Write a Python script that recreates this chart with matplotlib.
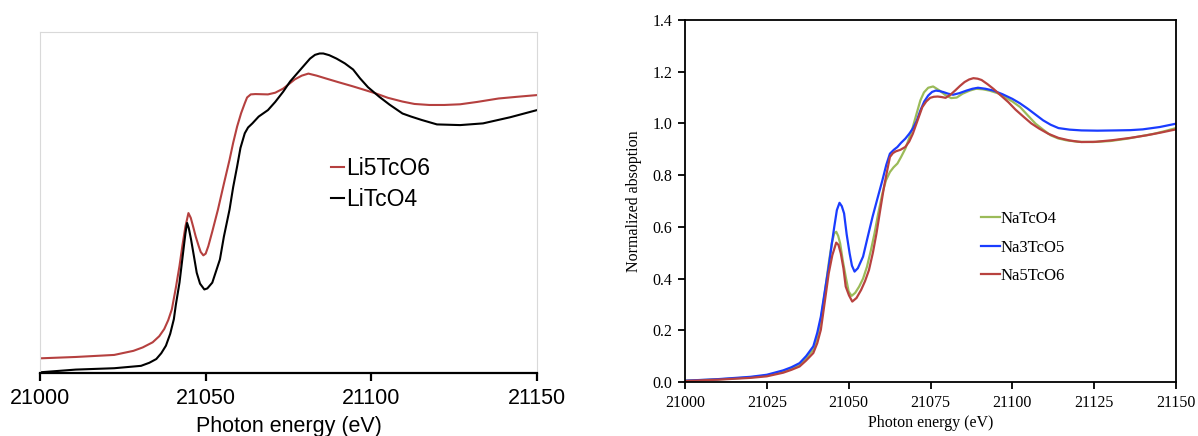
import matplotlib
matplotlib.use('Agg')
import matplotlib.pyplot as plt

# ---- left panel: Li compounds (arbitrary units) ----
li5tco6_e = [21000, 21010.8, 21022.4, 21028.2, 21031, 21034, 21036, 21037.5, 21038.7, 21039.8, 21041,
             21042.1, 21043, 21043.9, 21044.8, 21045.5, 21046.2, 21047, 21047.9, 21048.5, 21049.3,
             21050, 21050.8, 21052, 21053.7, 21055.5, 21057.2, 21058.3, 21059.5, 21060.7,
             21061.8, 21062.5, 21063.6, 21065, 21068.8, 21071, 21073.4, 21076.9, 21079,
             21081, 21083.5, 21086.2, 21090, 21094.3, 21098, 21101.3, 21105, 21109.4,
             21113, 21117.5, 21122, 21126.8, 21132, 21138.4, 21144, 21150]
li5tco6 = [0.043, 0.047, 0.053, 0.065, 0.075, 0.090, 0.108, 0.129, 0.155, 0.187, 0.25,
           0.314, 0.375, 0.430, 0.469, 0.455, 0.430, 0.40, 0.372, 0.355, 0.345,
           0.350, 0.372, 0.415, 0.479, 0.555, 0.625, 0.675, 0.723, 0.762,
           0.791, 0.808, 0.817, 0.818, 0.817, 0.822, 0.834, 0.861, 0.872,
           0.878, 0.872, 0.864, 0.853, 0.841, 0.830, 0.820, 0.807, 0.796,
           0.789, 0.786, 0.786, 0.788, 0.795, 0.805, 0.810, 0.815]

litco4_e = [21000, 21010.8, 21022.4, 21030.5, 21033, 21035.1, 21036.6, 21038, 21039.3, 21040.4,
            21041, 21042.1, 21043.3, 21043.9, 21044.4, 21044.9, 21045.6, 21046.5, 21047.3, 21048.3,
            21049.6, 21050.5, 21052, 21054.3, 21055.5, 21057.2, 21058.3, 21059.5, 21060.5, 21061.8,
            21062.8, 21064.1, 21066, 21068.8, 21071, 21073.4, 21075.5, 21078, 21081.5,
            21083, 21084.4, 21085.5, 21087.3, 21089.5, 21092, 21094.5, 21096.6, 21099,
            21102.4, 21105.5, 21109.4, 21112, 21115.2, 21119.8, 21126.8, 21133.7, 21141.9, 21150]
litco4 = [0.002, 0.010, 0.014, 0.021, 0.030, 0.041, 0.058, 0.080, 0.115, 0.158,
          0.20, 0.265, 0.362, 0.41, 0.440, 0.425, 0.391, 0.34, 0.294, 0.262,
          0.245, 0.248, 0.265, 0.333, 0.40, 0.479, 0.545, 0.606, 0.66, 0.703,
          0.72, 0.732, 0.752, 0.771, 0.795, 0.825, 0.855, 0.883, 0.922,
          0.933, 0.937, 0.937, 0.932, 0.922, 0.908, 0.89, 0.864, 0.838,
          0.810, 0.787, 0.761, 0.752, 0.742, 0.729, 0.727, 0.732, 0.750, 0.771]

# ---- right panel: Na compounds (normalized absorption) ----
natco4_e = [21000, 21010, 21020, 21025, 21030, 21032.5, 21035, 21037, 21039.2, 21040.4, 21041.5,
            21042.7, 21043.9, 21044.9,
            21045.6, 21046.2, 21046.8, 21047.4, 21048.2, 21049.1, 21050, 21050.9, 21052, 21053.2,
            21054.4, 21055.6, 21056.8, 21057.9, 21059, 21060.3, 21061.4, 21062.6, 21063.7, 21064.9,
            21066, 21067.3, 21068.4, 21069.6, 21070.8, 21071.9, 21073, 21074.3, 21075.8, 21077.8,
            21079.5, 21081.3, 21083, 21084.8, 21087, 21088.9, 21091, 21093, 21095.5, 21097.7,
            21100, 21102.4, 21104.8, 21107.1, 21109.5, 21111.7, 21114, 21116.4, 21120, 21124.6,
            21130, 21135.1, 21139, 21143.3, 21146.5, 21150]
natco4 = [0.005, 0.010, 0.018, 0.025, 0.040, 0.052, 0.067, 0.092, 0.125, 0.175, 0.240,
          0.345, 0.459, 0.54,
          0.575, 0.581, 0.565, 0.536, 0.47, 0.407, 0.35, 0.333, 0.345, 0.369,
          0.40, 0.446, 0.51, 0.575, 0.65, 0.729, 0.78, 0.812, 0.83, 0.845,
          0.87, 0.902, 0.94, 0.986, 1.04, 1.089, 1.12, 1.138, 1.143, 1.127,
          1.11, 1.098, 1.10, 1.115, 1.127, 1.134, 1.132, 1.127, 1.117, 1.102,
          1.085, 1.063, 1.03, 0.999, 0.975, 0.954, 0.942, 0.935, 0.929, 0.928,
          0.932, 0.941, 0.950, 0.960, 0.970, 0.982]

na3tco5_e = [21000, 21010, 21020, 21025, 21030, 21032.5, 21035, 21037, 21039.2, 21040.4, 21041.5,
             21042.7, 21043.9, 21044.8,
             21045.6, 21046.4, 21047.2, 21047.9, 21048.6, 21049.4, 21050.3, 21051, 21051.8, 21052.8,
             21054.4, 21055.8, 21057.3, 21058.8, 21060.3, 21061.5, 21062.6, 21063.8, 21064.9, 21066,
             21067.3, 21068.5, 21069.6, 21070.8, 21071.9, 21073.1, 21074.3, 21075.5, 21076.6, 21077.8,
             21079, 21080.4, 21081.9, 21083.8, 21086, 21087.8, 21089.5, 21091.8, 21094.2, 21097,
             21100, 21102.3, 21104.7, 21107, 21109.4, 21111.7, 21114.1, 21117.5, 21121.1, 21126,
             21131.6, 21136, 21139.8, 21145, 21150]
na3tco5 = [0.005, 0.011, 0.020, 0.028, 0.045, 0.057, 0.073, 0.100, 0.138, 0.19, 0.253,
           0.35, 0.446, 0.53,
           0.600, 0.665, 0.693, 0.68, 0.652, 0.57, 0.497, 0.45, 0.427, 0.44,
           0.485, 0.56, 0.639, 0.71, 0.780, 0.84, 0.883, 0.898, 0.909, 0.925,
           0.941, 0.96, 0.980, 1.01, 1.050, 1.085, 1.108, 1.122, 1.127, 1.125,
           1.121, 1.115, 1.111, 1.117, 1.127, 1.134, 1.138, 1.134, 1.127, 1.113,
           1.095, 1.078, 1.057, 1.035, 1.012, 0.995, 0.982, 0.976, 0.973, 0.972,
           0.973, 0.974, 0.977, 0.986, 0.999]

na5tco6_e = [21000, 21010, 21020, 21025, 21030, 21032.5, 21035, 21037, 21039.2, 21040.4, 21041.5,
             21042.7, 21043.9, 21045,
             21046.2, 21046.9, 21047.6, 21048.4, 21049.1, 21050.1, 21051.1, 21052.4, 21053.8, 21055,
             21056.2, 21057.4, 21058.5, 21059.7, 21060.8, 21061.8, 21062.6, 21063.5, 21064.4, 21065.8,
             21067.3, 21068.5, 21069.6, 21071, 21072.5, 21073.7, 21074.9, 21076, 21077.2, 21078.4,
             21079.6, 21081, 21082.5, 21084, 21085.4, 21086.8, 21088.1, 21089.4, 21090.6, 21092.4,
             21094.2, 21096.5, 21098.8, 21101, 21103.5, 21105.8, 21108.2, 21111, 21114.1, 21117.5,
             21121.1, 21125.5, 21130.5, 21136, 21141, 21145.5, 21150]
na5tco6 = [0.004, 0.009, 0.016, 0.022, 0.036, 0.047, 0.060, 0.083, 0.112, 0.15, 0.202,
           0.31, 0.420, 0.49,
           0.539, 0.53, 0.497, 0.44, 0.369, 0.335, 0.311, 0.325, 0.356, 0.39,
           0.433, 0.50, 0.575, 0.67, 0.755, 0.82, 0.870, 0.885, 0.892, 0.898,
           0.909, 0.93, 0.960, 1.01, 1.063, 1.085, 1.099, 1.103, 1.104, 1.102,
           1.099, 1.11, 1.127, 1.145, 1.160, 1.170, 1.175, 1.173, 1.168, 1.152,
           1.134, 1.108, 1.082, 1.053, 1.025, 1.0, 0.980, 0.96, 0.944, 0.934,
           0.928, 0.929, 0.935, 0.944, 0.954, 0.965, 0.977]

W, H = 1198, 436
fig = plt.figure(figsize=(W / 100, H / 100), dpi=100)

# left panel
sans = ['Liberation Sans', 'DejaVu Sans']
ax1 = fig.add_axes([40 / W, 1 - 373 / H, (537 - 40) / W, (373 - 32) / H])
ax1.plot(li5tco6_e, li5tco6, color='#B5403F', lw=1.5, label='Li5TcO6')
ax1.plot(litco4_e, litco4, color='black', lw=1.5, label='LiTcO4')
ax1.set_xlim(21000, 21150)
ax1.set_ylim(0, 1)
ax1.set_xticks([21000, 21050, 21100, 21150])
ax1.set_yticks([])
for s in ['top', 'left', 'right']:
    ax1.spines[s].set_color('#d9d9d9')
    ax1.spines[s].set_linewidth(0.8)
ax1.spines['bottom'].set_linewidth(1.6)
ax1.tick_params(axis='x', direction='out', length=6, width=1.6, labelsize=15.5, pad=5)
for t in ax1.get_xticklabels():
    t.set_family(sans)
ax1.set_xlabel('Photon energy (eV)', fontsize=15.5, family=sans, labelpad=5)
ax1.legend(loc='upper left', bbox_to_anchor=(331 / W, 1 - 157 / H), bbox_transform=fig.transFigure,
           frameon=False, borderpad=0, borderaxespad=0, handlelength=0.55, handletextpad=0.1,
           labelspacing=0.33, prop={'family': sans, 'size': 16.5})

# right panel
serif = ['Liberation Serif', 'DejaVu Serif']
ax2 = fig.add_axes([685 / W, 1 - 382 / H, (1176 - 685) / W, (382 - 20) / H])
ax2.plot(natco4_e, natco4, color='#9BBB59', lw=1.6, label='NaTcO4')
ax2.plot(na3tco5_e, na3tco5, color='#1A3CFF', lw=1.6, label='Na3TcO5')
ax2.plot(na5tco6_e, na5tco6, color='#B8423F', lw=1.6, label='Na5TcO6')
ax2.set_xlim(21000, 21150)
ax2.set_ylim(0, 1.4)
ax2.set_xticks([21000, 21025, 21050, 21075, 21100, 21125, 21150])
ax2.set_yticks([0.0, 0.2, 0.4, 0.6, 0.8, 1.0, 1.2, 1.4])
ax2.set_yticklabels(['0.0', '0.2', '0.4', '0.6', '0.8', '1.0', '1.2', '1.4'])
for s in ax2.spines.values():
    s.set_linewidth(1.3)
ax2.tick_params(direction='out', length=5, width=1.3, labelsize=11.5, pad=4)
for t in ax2.get_xticklabels() + ax2.get_yticklabels():
    t.set_family(serif)
ax2.set_xlabel('Photon energy (eV)', fontsize=11.5, family=serif, labelpad=3)
ax2.set_ylabel('Normalized absoption', fontsize=11.5, family=serif, labelpad=8)
ax2.legend(loc='upper left', bbox_to_anchor=(981 / W, 1 - 211 / H), bbox_transform=fig.transFigure,
           frameon=False, borderpad=0, borderaxespad=0, handlelength=1.15, handletextpad=0.05,
           labelspacing=0.75, prop={'family': serif, 'size': 12})

fig.savefig('out.png', dpi=100)
